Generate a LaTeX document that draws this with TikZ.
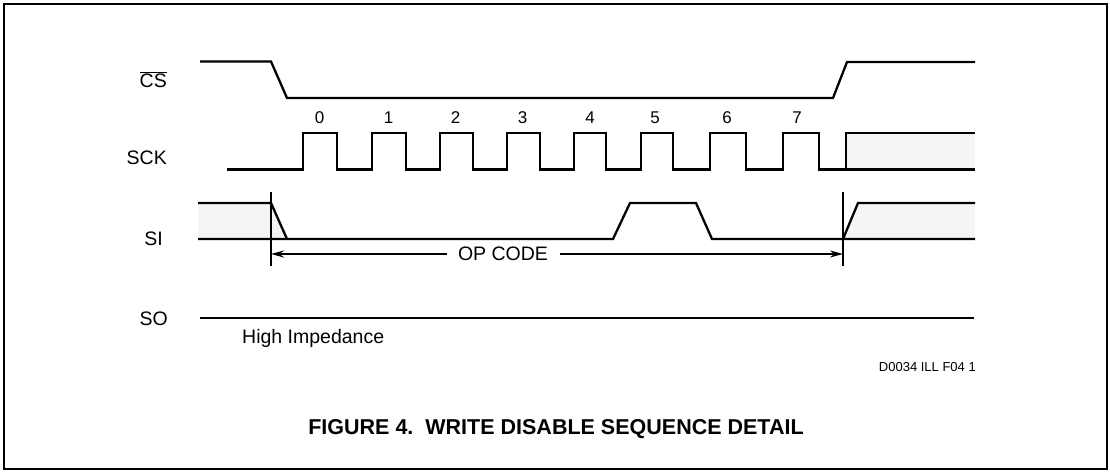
\documentclass[tikz,border=0pt]{standalone}
\usepackage{fontspec}
\setmainfont{Liberation Sans}
\usetikzlibrary{arrows.meta}
\begin{document}
\begin{tikzpicture}[x=1pt,y=-1pt,
  wave/.style={line width=2.3pt, line join=miter},
  marker/.style={line width=1.6pt},
  shade/.style={fill=black!4},
  sig/.style={font=\fontsize{19.5}{22}\selectfont, anchor=base east, inner sep=0pt},
  bit/.style={font=\fontsize{17}{20}\selectfont, anchor=base, inner sep=0pt},
  txt/.style={font=\fontsize{19.5}{22}\selectfont, inner sep=0pt},
  arr/.style={line width=1.6pt, -{Stealth[length=13pt,width=7pt]}}]
\useasboundingbox (0,0) rectangle (1110,472);
\draw[line width=2pt] (4,4) rectangle (1107,469);

% signal names
\node[sig] (cs)  at (167,87.3) {$\overline{\hbox{CS}}$};
\node[sig] (sck) at (167,164) {SCK};
\node[sig] (si)  at (163,245) {SI};
\node[sig] (so)  at (168,325) {SO};

% CS
\draw[wave] (200,61.5) -- (271,61.5) -- (287,98) -- (833,98) -- (847,62) -- (975,62);

% SCK shaded region
\fill[shade] (846,133) rectangle (975,169.5);
\draw[wave] (227,169.5) -- (303,169.5) -- (303,133) -- (337,133) -- (337,169.5)
  -- (372,169.5) -- (372,133) -- (406,133) -- (406,169.5)
  -- (440,169.5) -- (440,133) -- (473,133) -- (473,169.5)
  -- (507,169.5) -- (507,133) -- (540,133) -- (540,169.5)
  -- (574,169.5) -- (574,133) -- (606,133) -- (606,169.5)
  -- (641,169.5) -- (641,133) -- (673,133) -- (673,169.5)
  -- (710,169.5) -- (710,133) -- (746,133) -- (746,169.5)
  -- (783,169.5) -- (783,133) -- (819,133) -- (819,169.5)
  -- (846,169.5) -- (846,133) -- (975,133);
\draw[wave] (846,169.5) -- (975,169.5);

% bit numbers
\node[bit] (b0) at (319.5,123.3) {0};
\node[bit] (b1) at (388.5,123.3) {1};
\node[bit] (b2) at (455.5,123.3) {2};
\node[bit] (b3) at (522.5,123.3) {3};
\node[bit] (b4) at (590,123.3) {4};
\node[bit] (b5) at (655,123.3) {5};
\node[bit] (b6) at (727,123.3) {6};
\node[bit] (b7) at (797,123.3) {7};

% SI
\fill[shade] (198,203) -- (271,203) -- (287,239) -- (198,239) -- cycle;
\fill[shade] (843,239) -- (858,203) -- (975,203) -- (975,239) -- cycle;
\draw[wave] (198,203) -- (271,203) -- (287,239);
\draw[wave] (198,239) -- (613,239) -- (630,203) -- (696,203) -- (712,239) -- (975,239);
\draw[wave] (843,239) -- (858,203) -- (975,203);

% markers and OP CODE arrow
\coordinate (mlt) at (271,192);
\coordinate (mlb) at (271,266);
\coordinate (mrt) at (843,192);
\coordinate (mrb) at (843,266);
\draw[marker] (mlt) -- (mlb);
\draw[marker] (mrt) -- (mrb);
\coordinate (L) at (271,254);
\coordinate (R) at (843,254);
\node[txt] (op) at (503,254) {OP CODE};
\draw[arr] ([xshift=-11pt]op.west) -- (L);
\draw[arr] ([xshift=12pt]op.east) -- (R);

% SO
\draw[wave] (200,318) -- (974,318);
\node[txt, anchor=base west] (hz) at (242,343) {High Impedance};

% ids and caption
\node[font=\fontsize{13}{15}\selectfont, anchor=base east, inner sep=0pt] (id) at (976,371) {D0034 ILL F04 1};
\node[font=\bfseries\fontsize{21.5}{24}\selectfont, anchor=base, inner sep=0pt] (cap) at (556,434) {FIGURE 4.\ \ WRITE DISABLE SEQUENCE DETAIL};
\end{tikzpicture}
\end{document}
